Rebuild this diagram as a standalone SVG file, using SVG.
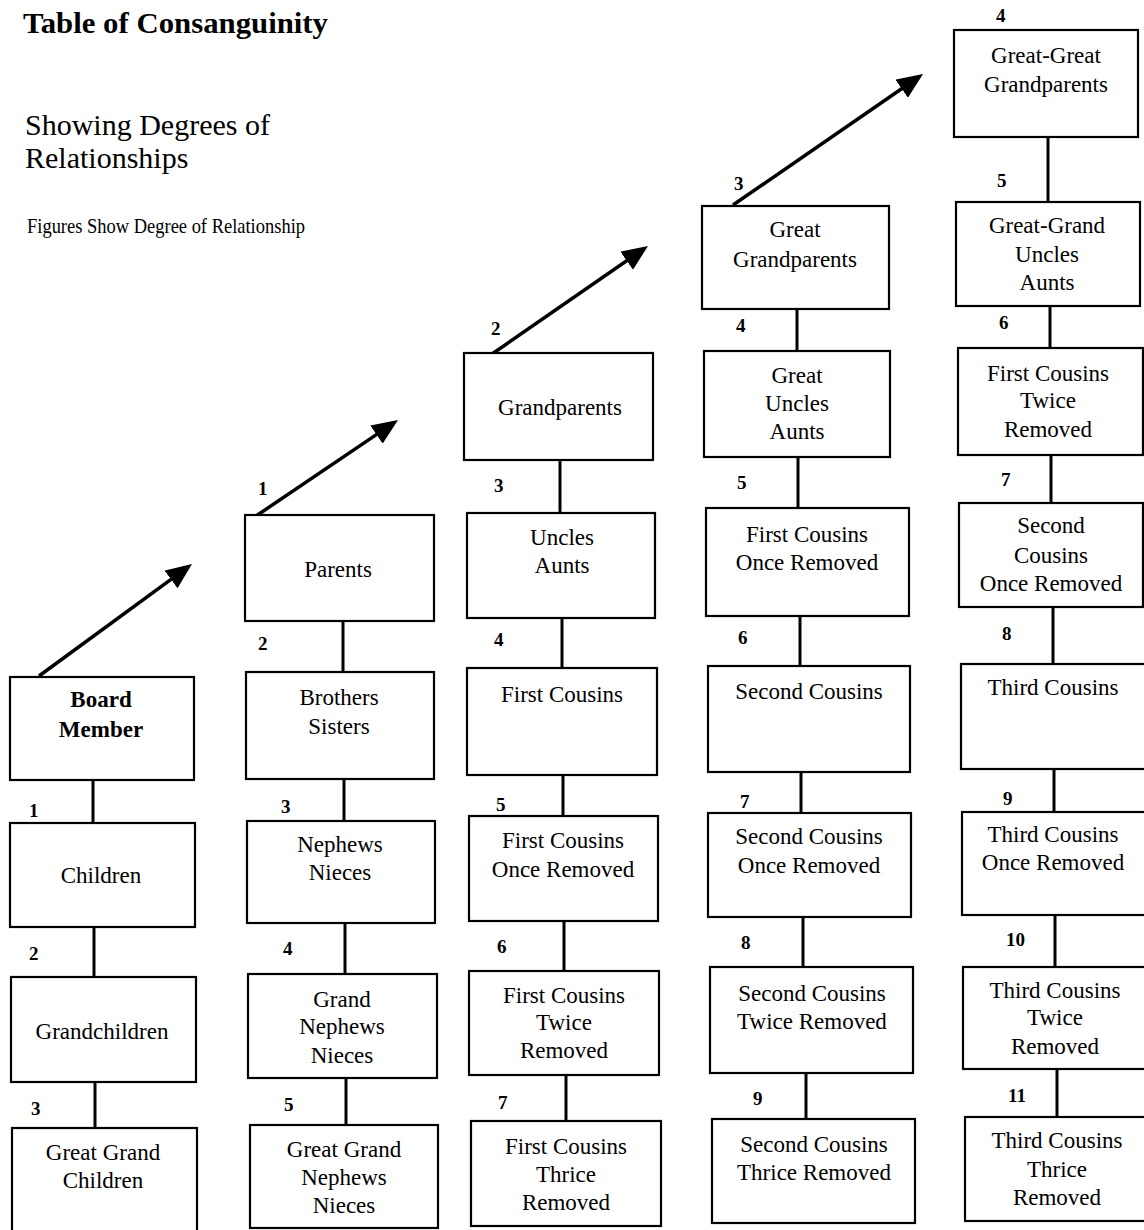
<svg xmlns="http://www.w3.org/2000/svg" width="1144" height="1230" viewBox="0 0 1144 1230">
<style>
.box{fill:#fff;stroke:#000;stroke-width:2.2}
.t{font-family:"Liberation Serif","Times New Roman",serif;font-size:23px;text-anchor:middle;fill:#000}
.b{font-weight:bold}
.n{font-family:"Liberation Serif","Times New Roman",serif;font-size:19px;font-weight:bold;fill:#000}
.c{stroke:#000;stroke-width:3;fill:none}
.a{stroke:#000;stroke-width:3.5;fill:none;marker-end:url(#ah)}
</style>
<defs>
<marker id="ah" viewBox="0 0 26 22" refX="11" refY="11" markerWidth="26" markerHeight="22" markerUnits="userSpaceOnUse" orient="auto">
<path d="M0,0 L26,11 L0,22 z" fill="#000"/>
</marker>
</defs>
<rect width="1144" height="1230" fill="#fff"/>
<g id="titles">
<text x="23" y="33" font-family="Liberation Serif,serif" font-size="30" font-weight="bold" textLength="305" lengthAdjust="spacingAndGlyphs">Table of Consanguinity</text>
<text x="25" y="135" font-family="Liberation Serif,serif" font-size="30">Showing Degrees of</text>
<text x="25" y="168" font-family="Liberation Serif,serif" font-size="30">Relationships</text>
<text x="27" y="233" font-family="Liberation Serif,serif" font-size="21" textLength="278" lengthAdjust="spacingAndGlyphs">Figures Show Degree of Relationship</text>
</g>
<g id="connectors">
<line class="c" x1="93" y1="780" x2="93" y2="823"/>
<line class="c" x1="94" y1="927" x2="94" y2="977"/>
<line class="c" x1="95" y1="1082" x2="95" y2="1128"/>
<line class="c" x1="343" y1="621" x2="343" y2="672"/>
<line class="c" x1="344" y1="779" x2="344" y2="821"/>
<line class="c" x1="345" y1="923" x2="345" y2="974"/>
<line class="c" x1="346" y1="1078" x2="346" y2="1125"/>
<line class="c" x1="560" y1="460" x2="560" y2="513"/>
<line class="c" x1="562" y1="618" x2="562" y2="668"/>
<line class="c" x1="563" y1="775" x2="563" y2="816"/>
<line class="c" x1="564" y1="921" x2="564" y2="971"/>
<line class="c" x1="566" y1="1075" x2="566" y2="1121"/>
<line class="c" x1="797" y1="309" x2="797" y2="351"/>
<line class="c" x1="798" y1="457" x2="798" y2="508"/>
<line class="c" x1="800" y1="616" x2="800" y2="666"/>
<line class="c" x1="801" y1="772" x2="801" y2="813"/>
<line class="c" x1="803" y1="917" x2="803" y2="967"/>
<line class="c" x1="806" y1="1073" x2="806" y2="1119"/>
<line class="c" x1="1048" y1="137" x2="1048" y2="202"/>
<line class="c" x1="1050" y1="306" x2="1050" y2="348"/>
<line class="c" x1="1051" y1="455" x2="1051" y2="503"/>
<line class="c" x1="1053" y1="607" x2="1053" y2="664"/>
<line class="c" x1="1054" y1="769" x2="1054" y2="812"/>
<line class="c" x1="1055" y1="915" x2="1055" y2="967"/>
<line class="c" x1="1057" y1="1069" x2="1057" y2="1117"/>
<line class="a" x1="39" y1="676" x2="179.9" y2="572.9"/>
<line class="a" x1="256" y1="516" x2="385.6" y2="428.4"/>
<line class="a" x1="492" y1="354" x2="635.7" y2="254.5"/>
<line class="a" x1="733" y1="205" x2="910.7" y2="82.5"/>
</g>
<g id="degrees">
<text class="n" x="29" y="817">1</text>
<text class="n" x="29" y="960">2</text>
<text class="n" x="31" y="1115">3</text>
<text class="n" x="258" y="495">1</text>
<text class="n" x="258" y="650">2</text>
<text class="n" x="281" y="813">3</text>
<text class="n" x="283" y="955">4</text>
<text class="n" x="284" y="1111">5</text>
<text class="n" x="491" y="335">2</text>
<text class="n" x="494" y="492">3</text>
<text class="n" x="494" y="646">4</text>
<text class="n" x="496" y="811">5</text>
<text class="n" x="497" y="953">6</text>
<text class="n" x="498" y="1109">7</text>
<text class="n" x="734" y="190">3</text>
<text class="n" x="736" y="332">4</text>
<text class="n" x="737" y="489">5</text>
<text class="n" x="738" y="644">6</text>
<text class="n" x="740" y="808">7</text>
<text class="n" x="741" y="949">8</text>
<text class="n" x="753" y="1105">9</text>
<text class="n" x="996" y="22">4</text>
<text class="n" x="997" y="187">5</text>
<text class="n" x="999" y="329">6</text>
<text class="n" x="1001" y="486">7</text>
<text class="n" x="1002" y="640">8</text>
<text class="n" x="1003" y="805">9</text>
<text class="n" x="1006" y="946">10</text>
<text class="n" x="1008" y="1102">11</text>
</g>
<g id="board-member"><rect class="box" x="10" y="677" width="184" height="103"/><text class="t b" x="101" y="707">Board</text><text class="t b" x="101" y="737">Member</text></g>
<g id="children"><rect class="box" x="10" y="823" width="185" height="104"/><text class="t" x="101" y="883">Children</text></g>
<g id="grandchildren"><rect class="box" x="11" y="977" width="185" height="105"/><text class="t" x="102" y="1039">Grandchildren</text></g>
<g id="great-grand-children"><rect class="box" x="12" y="1128" width="185" height="110"/><text class="t" x="103" y="1160">Great Grand</text><text class="t" x="103" y="1188">Children</text></g>
<g id="parents"><rect class="box" x="245" y="515" width="189" height="106"/><text class="t" x="338" y="577">Parents</text></g>
<g id="brothers-sisters"><rect class="box" x="246" y="672" width="188" height="107"/><text class="t" x="339" y="705">Brothers</text><text class="t" x="339" y="734">Sisters</text></g>
<g id="nephews-nieces"><rect class="box" x="247" y="821" width="188" height="102"/><text class="t" x="340" y="852">Nephews</text><text class="t" x="340" y="880">Nieces</text></g>
<g id="grand-nephews-nieces"><rect class="box" x="248" y="974" width="189" height="104"/><text class="t" x="342" y="1007">Grand</text><text class="t" x="342" y="1034">Nephews</text><text class="t" x="342" y="1063">Nieces</text></g>
<g id="great-grand-nephews-nieces"><rect class="box" x="250" y="1125" width="188" height="103"/><text class="t" x="344" y="1157">Great Grand</text><text class="t" x="344" y="1185">Nephews</text><text class="t" x="344" y="1213">Nieces</text></g>
<g id="grandparents"><rect class="box" x="464" y="353" width="189" height="107"/><text class="t" x="560" y="415">Grandparents</text></g>
<g id="uncles-aunts"><rect class="box" x="467" y="513" width="188" height="105"/><text class="t" x="562" y="545">Uncles</text><text class="t" x="562" y="573">Aunts</text></g>
<g id="first-cousins"><rect class="box" x="467" y="668" width="190" height="107"/><text class="t" x="562" y="702">First Cousins</text></g>
<g id="first-cousins-once-removed"><rect class="box" x="469" y="816" width="189" height="105"/><text class="t" x="563" y="848">First Cousins</text><text class="t" x="563" y="877">Once Removed</text></g>
<g id="first-cousins-twice-removed"><rect class="box" x="469" y="971" width="190" height="104"/><text class="t" x="564" y="1003">First Cousins</text><text class="t" x="564" y="1030">Twice</text><text class="t" x="564" y="1058">Removed</text></g>
<g id="first-cousins-thrice-removed"><rect class="box" x="471" y="1121" width="190" height="105"/><text class="t" x="566" y="1154">First Cousins</text><text class="t" x="566" y="1182">Thrice</text><text class="t" x="566" y="1210">Removed</text></g>
<g id="great-grandparents"><rect class="box" x="702" y="206" width="187" height="103"/><text class="t" x="795" y="237">Great</text><text class="t" x="795" y="267">Grandparents</text></g>
<g id="great-uncles-aunts"><rect class="box" x="704" y="351" width="186" height="106"/><text class="t" x="797" y="383">Great</text><text class="t" x="797" y="411">Uncles</text><text class="t" x="797" y="439">Aunts</text></g>
<g id="first-cousins-once-removed-2"><rect class="box" x="706" y="508" width="203" height="108"/><text class="t" x="807" y="542">First Cousins</text><text class="t" x="807" y="570">Once Removed</text></g>
<g id="second-cousins"><rect class="box" x="708" y="666" width="202" height="106"/><text class="t" x="809" y="699">Second Cousins</text></g>
<g id="second-cousins-once-removed"><rect class="box" x="708" y="813" width="203" height="104"/><text class="t" x="809" y="844">Second Cousins</text><text class="t" x="809" y="873">Once Removed</text></g>
<g id="second-cousins-twice-removed"><rect class="box" x="710" y="967" width="203" height="106"/><text class="t" x="812" y="1001">Second Cousins</text><text class="t" x="812" y="1029">Twice Removed</text></g>
<g id="second-cousins-thrice-removed"><rect class="box" x="712" y="1119" width="203" height="104"/><text class="t" x="814" y="1152">Second Cousins</text><text class="t" x="814" y="1180">Thrice Removed</text></g>
<g id="great-great-grandparents"><rect class="box" x="954" y="30" width="184" height="107"/><text class="t" x="1046" y="63">Great-Great</text><text class="t" x="1046" y="92">Grandparents</text></g>
<g id="great-grand-uncles-aunts"><rect class="box" x="956" y="202" width="184" height="104"/><text class="t" x="1047" y="233">Great-Grand</text><text class="t" x="1047" y="262">Uncles</text><text class="t" x="1047" y="290">Aunts</text></g>
<g id="first-cousins-twice-removed-2"><rect class="box" x="958" y="348" width="185" height="107"/><text class="t" x="1048" y="381">First Cousins</text><text class="t" x="1048" y="408">Twice</text><text class="t" x="1048" y="437">Removed</text></g>
<g id="second-cousins-once-removed-2"><rect class="box" x="959" y="503" width="184" height="104"/><text class="t" x="1051" y="533">Second</text><text class="t" x="1051" y="563">Cousins</text><text class="t" x="1051" y="591">Once Removed</text></g>
<g id="third-cousins"><rect class="box" x="961" y="664" width="186" height="105"/><text class="t" x="1053" y="695">Third Cousins</text></g>
<g id="third-cousins-once-removed"><rect class="box" x="962" y="812" width="186" height="103"/><text class="t" x="1053" y="842">Third Cousins</text><text class="t" x="1053" y="870">Once Removed</text></g>
<g id="third-cousins-twice-removed"><rect class="box" x="963" y="967" width="186" height="102"/><text class="t" x="1055" y="998">Third Cousins</text><text class="t" x="1055" y="1025">Twice</text><text class="t" x="1055" y="1054">Removed</text></g>
<g id="third-cousins-thrice-removed"><rect class="box" x="965" y="1117" width="186" height="104"/><text class="t" x="1057" y="1148">Third Cousins</text><text class="t" x="1057" y="1177">Thrice</text><text class="t" x="1057" y="1205">Removed</text></g>
</svg>
